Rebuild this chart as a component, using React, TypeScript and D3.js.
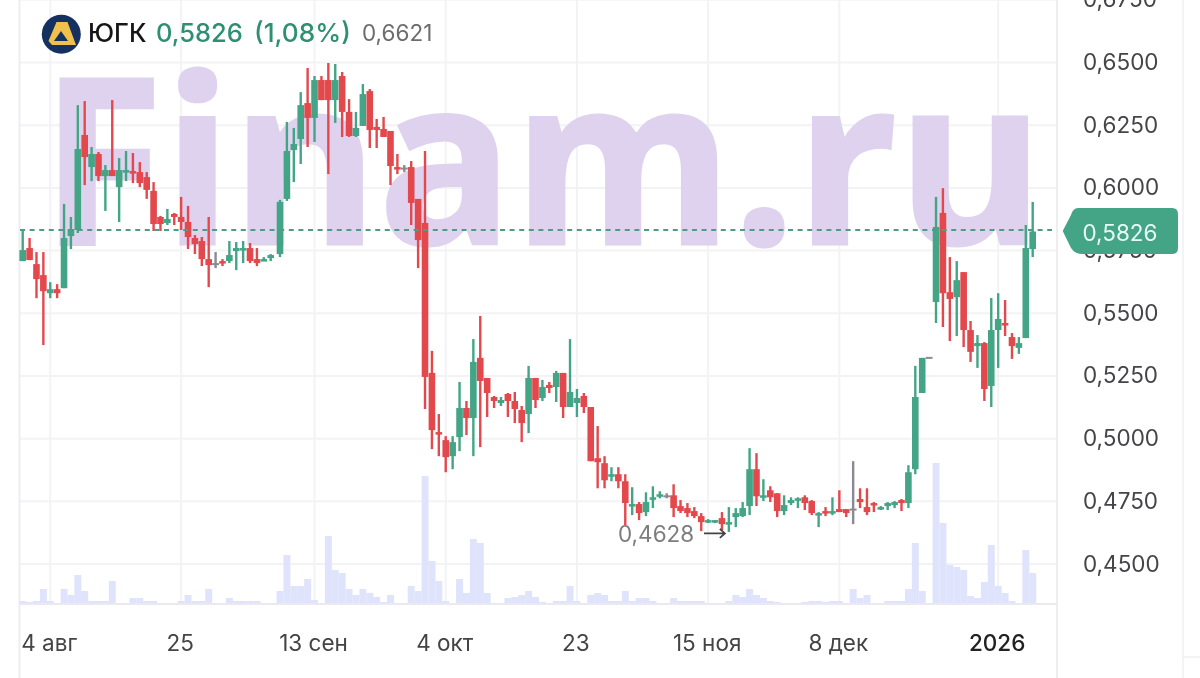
import React from "react";
import * as d3 from "d3";

const highs = [.5836,.5800,.5744,.5744,.5624,.5616,.5936,.5884,.6330,.6346,.6163,.6143,.6091,.6350,.6119,.6147,.6139,.6103,.6063,.6023,.5888,.5916,.5900,.5964,.5928,.5812,.5804,.5884,.5744,.5716,.5788,.5784,.5788,.5780,.5760,.5724,.5736,
.5952,.6263,.6239,.6382,.6478,.6446,.6446,.6498,.6494,.6462,.6354,.6303,.6414,.6394,.6275,.6283,.6227,.6135,.6091,.6107,.5956,.6147,.5350,.5098,.5010,.5010,.5226,.5150,.5397,.5489,.5242,.5170,.5166,.5182,.5186,.5130,.5290,.5242,.5234,.5226,.5270,.5262,.5397,.5198,
.5182,.5126,.5050,.4930,.4886,.4886,.4858,.4806,.4747,.4786,.4810,.4790,.4782,.4818,.4755,.4743,.4727,.4703,.4679,.4675,.4707,.4727,.4723,.4747,.4962,.4942,.4838,.4810,.4782,.4774,.4766,.4766,.4774,.4755,.4707,.4727,.4766,.4794,.4719,.4910,.4802,.4802,.4747,.4731,.4747,.4751,.4759,.4894,.5290,.5322,.5322,.5964,.5999,.5724,.5708,.5664,.5469,.5413,.5385,.5561,.5580,.5553,.5421,.5405,.5852,.5944];

const lows = [.5708,.5712,.5560,.5373,.5560,.5560,.5600,.5756,.5820,.6011,.6027,.6027,.5908,.6047,.5864,.6027,.6019,.6003,.5956,.5828,.5828,.5852,.5852,.5832,.5756,.5736,.5688,.5604,.5680,.5688,.5700,.5672,.5700,.5700,.5688,.5708,.5708,
.5724,.5948,.6023,.6095,.6163,.6183,.6350,.6055,.6259,.6203,.6203,.6203,.6247,.6159,.6159,.6203,.6011,.6055,.6063,.5852,.5680,.5118,.4958,.4930,.4866,.4878,.4950,.5014,.4930,.4966,.5086,.5122,.5130,.5086,.5062,.4986,.5022,.5122,.5150,.5182,.5146,.5082,.5126,.5086,
.5102,.4910,.4802,.4802,.4830,.4802,.4655,.4695,.4675,.4691,.4723,.4762,.4762,.4687,.4703,.4687,.4683,.4631,.4663,.4663,.4635,.4628,.4647,.4687,.4695,.4731,.4751,.4747,.4687,.4695,.4735,.4723,.4715,.4695,.4647,.4691,.4695,.4707,.4687,.4659,.4723,.4695,.4707,.4715,.4715,.4723,.4711,.4723,.4858,.5182,.5322,.5461,.5445,.5389,.5409,.5365,.5306,.5282,.5150,.5126,.5282,.5409,.5318,.5338,.5401,.5724];

const opens = [.5708,.5760,.5696,.5652,.5580,.5596,.5600,.5808,.5832,.6211,.6083,.6135,.6047,.6071,.6003,.6063,.6067,.6063,.6043,.5988,.5884,.5860,.5896,.5884,.5864,.5800,.5788,.5716,.5696,.5708,.5708,.5748,.5756,.5760,.5716,.5712,.5720,
.5736,.5956,.6151,.6195,.6338,.6279,.6430,.6430,.6350,.6446,.6303,.6207,.6247,.6386,.6243,.6235,.6227,.6083,.6077,.6083,.5956,.5860,.5262,.5026,.4994,.4930,.5006,.5122,.5082,.5322,.5242,.5166,.5142,.5178,.5150,.5114,.5098,.5242,.5162,.5214,.5206,.5262,.5126,.5142,
.5170,.5126,.4922,.4902,.4850,.4858,.4830,.4731,.4739,.4707,.4759,.4774,.4770,.4774,.4731,.4723,.4711,.4691,.4667,.4667,.4683,.4663,.4687,.4691,.4731,.4878,.4770,.4794,.4782,.4711,.4743,.4759,.4766,.4751,.4699,.4711,.4707,.4719,.4719,.4717,.4759,.4727,.4743,.4723,.4731,.4735,.4755,.4743,.4878,.5182,.5322,.5545,.5900,.5584,.5564,.5664,.5433,.5369,.5381,.5210,.5433,.5461,.5405,.5362,.5401,.5756];

const closes = [.5752,.5712,.5636,.5588,.5596,.5580,.5800,.5836,.6155,.6123,.6135,.6047,.6071,.6047,.6071,.6071,.6059,.6019,.5992,.5856,.5856,.5876,.5884,.5864,.5804,.5776,.5716,.5692,.5696,.5700,.5732,.5760,.5760,.5708,.5700,.5716,.5732,
.5944,.6147,.6175,.6330,.6279,.6430,.6350,.6350,.6430,.6303,.6207,.6239,.6374,.6231,.6231,.6203,.6087,.6075,.6077,.5940,.5792,.5246,.5034,.5018,.4926,.4986,.5122,.5082,.5306,.5230,.5182,.5150,.5154,.5150,.5118,.5062,.5242,.5154,.5206,.5202,.5262,.5126,.5186,.5162,
.5126,.4910,.4906,.4834,.4858,.4830,.4743,.4739,.4703,.4747,.4766,.4778,.4770,.4723,.4711,.4703,.4691,.4667,.4675,.4675,.4659,.4667,.4703,.4723,.4878,.4770,.4774,.4766,.4711,.4735,.4755,.4762,.4743,.4703,.4703,.4703,.4711,.4707,.4703,.4717,.4747,.4707,.4735,.4727,.4743,.4747,.4743,.4866,.5166,.5322,.5322,.5844,.5580,.5557,.5632,.5433,.5346,.5381,.5198,.5433,.5477,.5457,.5369,.5381,.5760,.5826];

const volumes = [3,2,3,15,3,1,15,9,29,13,3,3,3,23,1,0,6,6,3,3,1,0,0,3,9,3,3,15,0,0,6,3,3,3,3,0,0,
13,49,18,18,25,4,1,68,34,31,15,9,15,11,7,2,9,0,0,18,13,128,43,23,3,1,25,11,65,61,11,0,0,6,7,9,13,7,2,0,3,3,18,3,
1,9,11,9,3,3,13,3,6,6,3,0,0,6,3,3,3,3,0,0,1,3,9,7,15,9,6,3,2,1,0,0,2,3,3,2,3,3,1,15,6,9,0,0,3,3,3,15,61,13,0,141,81,39,37,34,8,6,22,59,18,11,3,1,54,31];

const priceTicks = [0.675,0.65,0.625,0.6,0.575,0.55,0.525,0.5,0.475,0.45];
const dateTickIdx = [4,23,42,61,80,99,118,141];
const dateTickLabels = ["4 авг","25","13 сен","4 окт","23","15 ноя","8 дек","2026"];
const ticker = "ЮГК";
const lastPriceText = "0,5826";
const changeText = "(1,08%)";
const secondPriceText = "0,6621";
const priceLine = 0.5832;
const minLabel = "0,4628";
const minIdx = 102;

const W = 1200, H = 678;
const GREEN = "#43a585", RED = "#e3484c", GRAY = "#8a8a92", GRID = "#f3f3f6";
const FONT = "Inter, 'Noto Sans', sans-serif";

const x = d3.scaleLinear().domain([0,36,37,146]).range([22.7,270.7,280,1032.7]);
const y = d3.scaleLinear().domain([0.65,0.45]).range([62.5,564]);
const maxVol = d3.max(volumes) as number;
const v = d3.scaleLinear().domain([0,maxVol]).range([604,463]);
const fmt = d3.format(".4f");
const tickText = (p:number)=>fmt(p).replace(".",",");

export default function App(){
  const tagY = y(priceLine)+1;
  const tagPath = `M1062.7 ${tagY} L1071 ${tagY-16} Q1073 208 1078 208 L1172 208 Q1178 208 1178 214 L1178 248 Q1178 254 1172 254 L1082 254 Q1075 254 1071 ${tagY+17} Z`;
  return (
    <svg width={W} height={H} viewBox={`0 0 ${W} ${H}`} style={{position:"fixed",left:0,top:0,background:"#fff",filter:"blur(0.6px)"}} fontFamily={FONT}>
      {priceTicks.map(p=>(
        <line key={p} x1={20} x2={1057} y1={y(p)} y2={y(p)} stroke={GRID} strokeWidth={2}/>
      ))}
      {dateTickIdx.map(i=>(
        <line key={i} x1={x(i)} x2={x(i)} y1={0} y2={604} stroke={GRID} strokeWidth={2}/>
      ))}
      <text x={41} y={244} fontFamily="'Open Sans'" fontWeight={700} fontSize={232} fill="#dfd2ef" stroke="#dfd2ef" strokeWidth={3} textLength={1003} lengthAdjust="spacingAndGlyphs">Finam.ru</text>
      <line x1={19.5} x2={19.5} y1={0} y2={H} stroke="#eeeef1" strokeWidth={2}/>
      <line x1={1057} x2={1057} y1={0} y2={H} stroke="#eeeef1" strokeWidth={2}/>
      <line x1={1183} x2={1183} y1={0} y2={H} stroke="#f0f0f3" strokeWidth={1.5}/>
      <line x1={1183} x2={1200} y1={657} y2={657} stroke="#f0f0f3" strokeWidth={1.5}/>
      {volumes.map((d,i)=> d>0 && (
        <rect key={i} x={x(i)-3.45} width={6.95} y={v(d)} height={604-v(d)} fill="#dfe3fb"/>
      ))}
      <line x1={20} x2={1057} y1={604} y2={604} stroke="#e9e9ef" strokeWidth={2}/>
      {closes.map((c,i)=>{
        const o = opens[i];
        const col = c===o ? GRAY : c>o ? GREEN : RED;
        const top = y(Math.max(o,c)), bot = y(Math.min(o,c));
        const h = Math.max(bot-top,2.5);
        return (
          <g key={i}>
            <line x1={x(i)} x2={x(i)} y1={y(highs[i])} y2={y(lows[i])} stroke={col} strokeWidth={2.4}/>
            {c===o
              ? <line x1={x(i)-3.4} x2={x(i)+3.4} y1={top} y2={top} stroke={col} strokeWidth={2}/>
              : <rect x={x(i)-3.3} width={6.6} y={top} height={h} fill={col}/>}
          </g>
        );
      })}
      <line x1={20} x2={1052} y1={y(priceLine)} y2={y(priceLine)} stroke="#4d9d84" strokeWidth={2} strokeDasharray="5 4.6"/>
      {priceTicks.map(p=>(
        <text key={p} x={1083} y={y(p)+7.5} fontSize={22.5} fill="#454549">{tickText(p)}</text>
      ))}
      <path d={tagPath} fill={GREEN}/>
      <text x={1120} y={241} fontSize={22.5} fill="#eafaf4" textAnchor="middle">{lastPriceText}</text>
      {dateTickIdx.map((i,k)=>(
        <text key={i} x={x(i)-1} y={651} fontSize={22.5} textAnchor="middle" fontWeight={k===7?500:400} fill={k===7?"#222":"#444"}>{dateTickLabels[k]}</text>
      ))}
      <text x={618} y={542} fontSize={22.5} fill="#7d7d80">{minLabel}</text>
      <path d={`M704 ${y(0.4628)+1.5} L${x(minIdx)-4} ${y(0.4628)+1.5} M${x(minIdx)-9} ${y(0.4628)-3} L${x(minIdx)-4} ${y(0.4628)+1.5} L${x(minIdx)-9} ${y(0.4628)+6}`} stroke="#444" strokeWidth={1.8} fill="none"/>
      <circle cx={61.3} cy={34.3} r={19.5} fill="#14315f"/>
      <path d="M48.5 41 L56.5 22 L67.5 22 L76 45 L52 45 Z" fill="#f2c14b"/>
      <path d="M61 31 L54 41 L68 41 Z" fill="#14315f"/>
      <text x={88} y={42} fontSize={25.5} fill="#16161a" fontWeight={500}>{ticker}</text>
      <text x={156} y={42} fontSize={25.5} fill="#2f8f72" fontWeight={500}>{lastPriceText}</text>
      <text x={254} y={42} fontSize={26.2} fill="#2f8f72" fontWeight={500}>{changeText}</text>
      <text x={362} y={41} fontSize={22.5} fill="#6c6c70">{secondPriceText}</text>
    </svg>
  );
}
